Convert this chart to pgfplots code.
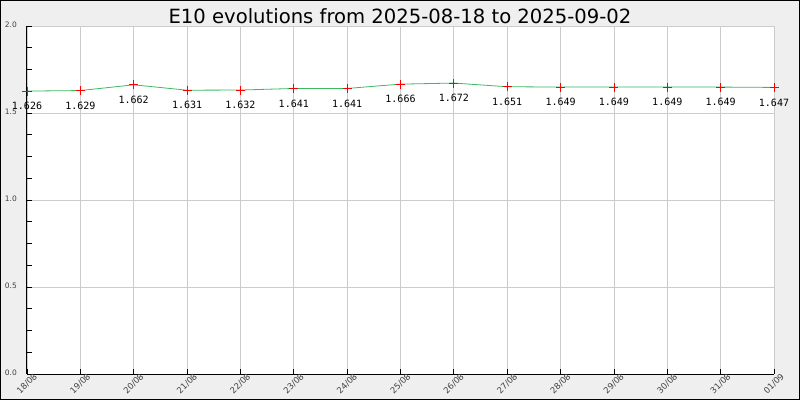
\documentclass[border=0pt]{standalone}
\usepackage{pgfplots}
\pgfplotsset{compat=1.18}
\usepackage{fontspec}
\setmainfont{DejaVu Sans}
\newfontfamily\monofont{DejaVu Sans Mono}
\definecolor{bggray}{RGB}{239,239,239}
\definecolor{linegreen}{RGB}{60,185,100}
\definecolor{gridgray}{RGB}{204,204,204}
\pgfplotsset{/pgf/number format/assume math mode=true}
\begin{document}
\begin{tikzpicture}[x=1pt,y=1pt]
\fill[bggray] (0,0) rectangle (800,400);
\useasboundingbox (0,0) rectangle (800,400);
\begin{axis}[at={(27pt,26pt)}, anchor=south west, scale only axis,
  width=747pt, height=348pt,
  xmin=0, xmax=14, ymin=0, ymax=2, clip=false,
  axis background/.style={fill=white},
  axis x line*=bottom, axis y line*=left,
  axis line style={-, black, line width=1pt},
  xtick={0,...,14},
  xticklabels={18/08,19/08,20/08,21/08,22/08,23/08,24/08,25/08,26/08,27/08,28/08,29/08,30/08,31/08,01/09},
  ytick={0,0.5,1,1.5,2}, minor y tick num=3,
  yticklabel={\pgfmathprintnumber[fixed,fixed zerofill,precision=1]{\tick}},
  grid=major, major grid style={gridgray, line width=0.8pt},
  major tick length=5pt, minor tick length=5pt,
  tick style={black, line width=0.8pt}, tick align=inside,
  yticklabel style={font=\fontsize{7.5}{8}\selectfont, text=black!75, anchor=east, inner sep=0pt, xshift=-10pt, yshift=1pt},
  xticklabel style={yshift=-10pt, rotate=45, anchor=center, font=\fontsize{8.5}{9}\selectfont, text=black!75, inner sep=0pt},
  nodes near coords={\pgfmathprintnumber[fixed,fixed zerofill,precision=3]{\pgfplotspointmeta}},
  every node near coord/.append style={font=\fontsize{10}{12}\monofont, text=black, anchor=center, yshift=-15pt},
]
\addplot[color=linegreen, line width=0.8pt, mark=+, mark size=4.5pt, mark options={red, line width=0.8pt}]
  table {
x y
0 1.626
1 1.629
2 1.662
3 1.631
4 1.632
5 1.641
6 1.641
7 1.666
8 1.672
9 1.651
10 1.649
11 1.649
12 1.649
13 1.649
14 1.647
};
\end{axis}
\node[font=\fontsize{19.6}{22}\selectfont] at (400,384) {E10 evolutions from 2025-08-18 to 2025-09-02};
\draw[black, line width=1pt] (0.5,0.5) rectangle (799.5,399.5);
\end{tikzpicture}
\end{document}
